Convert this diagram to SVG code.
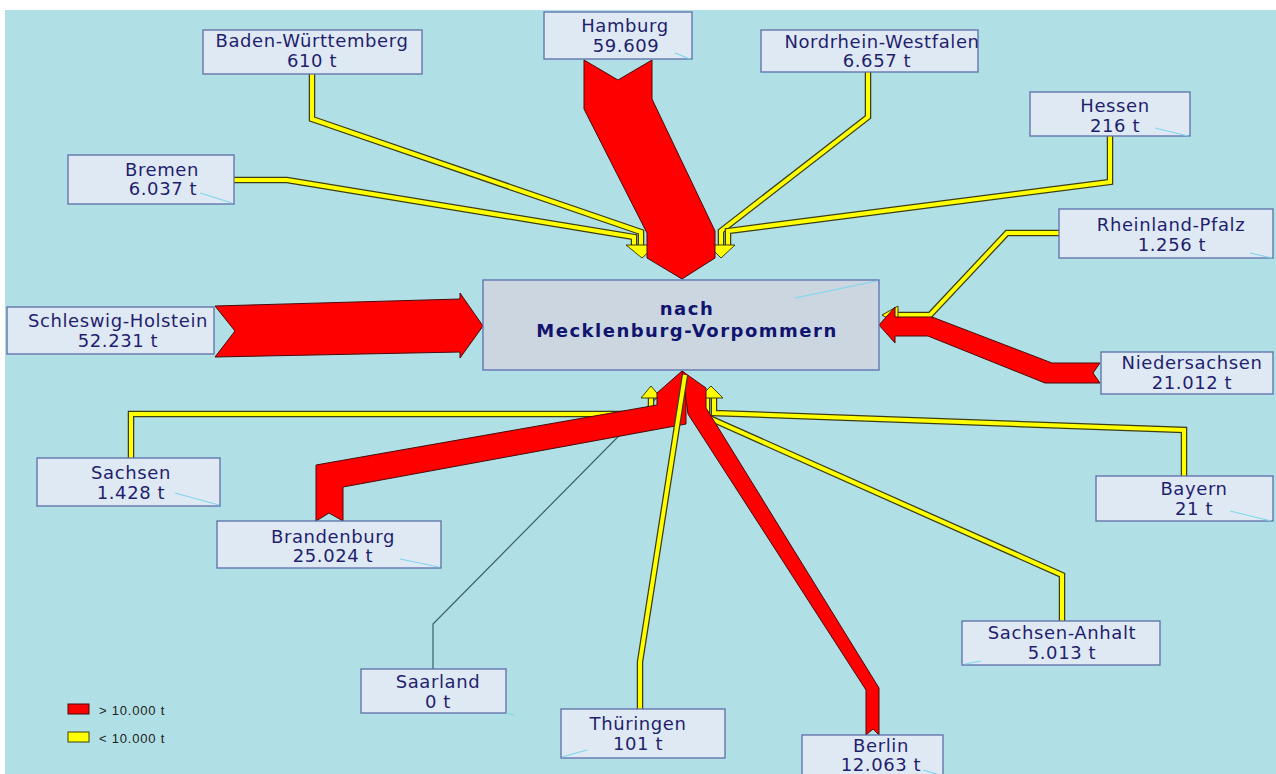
<svg xmlns="http://www.w3.org/2000/svg" xmlns:xlink="http://www.w3.org/1999/xlink" width="1276" height="774" viewBox="0 0 1276 774">
<style>
.bg{fill:#b0dfe5}
.box{fill:#dfe9f4;stroke:#5b6fa9;stroke-width:1.3}
.cbox{fill:#cbd6e0;stroke:#5b6fb0;stroke-width:1.3}
.lbl{font-family:"DejaVu Sans",Verdana,sans-serif;font-size:18px;fill:#1f1f6e;text-anchor:middle;letter-spacing:0.6px}
.ctr{font-family:"DejaVu Sans",Verdana,sans-serif;font-size:18px;font-weight:bold;fill:#10146e;text-anchor:middle;letter-spacing:1.5px}
.red{fill:#ff0000;stroke:#4a0a0a;stroke-width:1;stroke-linejoin:miter}
.yo{fill:none;stroke:#3d3d12;stroke-width:6.5;stroke-linejoin:miter}
.yi{fill:none;stroke:#ffff00;stroke-width:4;stroke-linejoin:miter}
.yh{fill:#ffff00;stroke:#3d3d12;stroke-width:1}
.gray{fill:none;stroke:#3c5f66;stroke-width:1.2}
.hint{stroke:#7fd6ea;stroke-width:1.2}
.leg{font-family:"Liberation Sans",Arial,sans-serif;font-size:13px;fill:#222;letter-spacing:0.8px}
</style>
<defs>
<path id="p-bw" d="M312,74 V119 L641,232 V247"/>
<path id="p-hb" d="M234,180 H287 L634,237 V247"/>
<path id="p-nrw" d="M868,72 V117 L721,231 V247"/>
<path id="p-he" d="M1110,136 V182 L728,231 V247"/>
<path id="p-rp" d="M1059,233 H1007 L930,315 H897"/>
<path id="p-sn" d="M131,458 V414 H651 V397"/>
<path id="p-by" d="M1184,476 V430 L714,413 V397"/>
<path id="p-sa" d="M1062,621 V575 L707,417 V397"/>
<path id="p-th" d="M640,709 V662 L685,375"/>
</defs>
<rect x="0" y="0" width="1276" height="774" fill="#ffffff"/>
<rect class="bg" x="5" y="10" width="1271" height="764"/>

<g id="connectors">
  <path class="gray" d="M433,669 V624 L682,372"/>
  <use xlink:href="#p-bw" class="yo"/><use xlink:href="#p-bw" class="yi"/>
  <use xlink:href="#p-hb" class="yo"/><use xlink:href="#p-hb" class="yi"/>
  <polygon class="yh" points="626,245 656,245 642,258"/>
  <use xlink:href="#p-nrw" class="yo"/><use xlink:href="#p-nrw" class="yi"/>
  <use xlink:href="#p-he" class="yo"/><use xlink:href="#p-he" class="yi"/>
  <polygon class="yh" points="708,245 735,245 721,258"/>
  <use xlink:href="#p-rp" class="yo"/><use xlink:href="#p-rp" class="yi"/>
  <polygon class="yh" points="898,306 898,324 882,315"/>
  <use xlink:href="#p-sn" class="yo"/><use xlink:href="#p-sn" class="yi"/>
  <polygon class="yh" points="641,398 661,398 651,386"/>
  <use xlink:href="#p-by" class="yo"/><use xlink:href="#p-by" class="yi"/>
  <use xlink:href="#p-sa" class="yo"/><use xlink:href="#p-sa" class="yi"/>
  <polygon class="yh" points="699,398 723,398 711,386"/>

  <polygon class="red" points="584,60 618,80 652,60 652,99 715,231 715,258 682,279 647,258 647,233 584,109"/>
  <polygon class="red" points="215,306 235,331 215,357 460,352 460,358 483,326 460,293 460,299"/>
  <polygon class="red" points="1100,363 1052,363 932,317 895,317 895,307 879,325 895,343 895,336 928,336 1045,383 1100,383 1093,373"/>
  <polygon class="red" points="316,521 329,513 343,521 343,487 686,424 686,374 682,371 657,393 657,405 316,465"/>
  <polygon class="red" points="866,735 873,729 879,735 879,688 706,408 706,388 682,371 688,414 866,690"/>

  <use xlink:href="#p-th" class="yo"/><use xlink:href="#p-th" class="yi"/>
</g>

<g id="node-center">
  <rect class="cbox" x="483" y="280" width="396" height="90"/>
  <line class="hint" x1="795" y1="298" x2="877" y2="281"/>
  <text class="ctr" x="687" y="315">nach</text>
  <text class="ctr" x="687" y="337">Mecklenburg-Vorpommern</text>
</g>
<g id="node-bw">
  <rect class="box" x="203" y="30" width="219" height="44"/>
  <text class="lbl" x="312" y="47">Baden-Württemberg</text>
  <text class="lbl" x="312" y="67">610 t</text>
</g>
<g id="node-bremen">
  <rect class="box" x="68" y="155" width="166" height="49"/>
  <line class="hint" x1="200" y1="193" x2="232" y2="203"/>
  <text class="lbl" x="162" y="176">Bremen</text>
  <text class="lbl" x="163" y="195">6.037 t</text>
</g>
<g id="node-hamburg">
  <rect class="box" x="544" y="12" width="148" height="47"/>
  <line class="hint" x1="675" y1="53" x2="690" y2="59"/>
  <text class="lbl" x="625" y="32">Hamburg</text>
  <text class="lbl" x="626" y="52">59.609</text>
</g>
<g id="node-nrw">
  <rect class="box" x="761" y="30" width="217" height="42"/>
  <text class="lbl" x="882" y="48">Nordrhein-Westfalen</text>
  <text class="lbl" x="877" y="67">6.657 t</text>
</g>
<g id="node-hessen">
  <rect class="box" x="1030" y="92" width="160" height="44"/>
  <line class="hint" x1="1155" y1="128" x2="1188" y2="136"/>
  <text class="lbl" x="1115" y="112">Hessen</text>
  <text class="lbl" x="1115" y="132">216 t</text>
</g>
<g id="node-rp">
  <rect class="box" x="1059" y="209" width="214" height="49"/>
  <line class="hint" x1="1250" y1="253" x2="1272" y2="258"/>
  <text class="lbl" x="1171" y="231">Rheinland-Pfalz</text>
  <text class="lbl" x="1172" y="251">1.256 t</text>
</g>
<g id="node-niedersachsen">
  <rect class="box" x="1101" y="352" width="172" height="42"/>
  <text class="lbl" x="1192" y="369">Niedersachsen</text>
  <text class="lbl" x="1192" y="389">21.012 t</text>
</g>
<g id="node-sh">
  <rect class="box" x="7" y="307" width="207" height="47"/>
  <text class="lbl" x="118" y="327">Schleswig-Holstein</text>
  <text class="lbl" x="118" y="347">52.231 t</text>
</g>
<g id="node-sachsen">
  <rect class="box" x="37" y="458" width="183" height="48"/>
  <line class="hint" x1="175" y1="493" x2="219" y2="505"/>
  <text class="lbl" x="131" y="479">Sachsen</text>
  <text class="lbl" x="131" y="499">1.428 t</text>
</g>
<g id="node-brandenburg">
  <rect class="box" x="217" y="521" width="224" height="47"/>
  <line class="hint" x1="400" y1="559" x2="439" y2="567"/>
  <text class="lbl" x="333" y="543">Brandenburg</text>
  <text class="lbl" x="333" y="562">25.024 t</text>
</g>
<g id="node-saarland">
  <rect class="box" x="361" y="669" width="145" height="44"/>
  <line class="hint" x1="506" y1="713" x2="514" y2="715"/>
  <text class="lbl" x="438" y="688">Saarland</text>
  <text class="lbl" x="438" y="708">0 t</text>
</g>
<g id="node-thueringen">
  <rect class="box" x="561" y="709" width="164" height="49"/>
  <line class="hint" x1="562" y1="757" x2="587" y2="750"/>
  <text class="lbl" x="638" y="730">Thüringen</text>
  <text class="lbl" x="638" y="750">101 t</text>
</g>
<g id="node-berlin">
  <rect class="box" x="802" y="735" width="141" height="45"/>
  <line class="hint" x1="923" y1="770" x2="940" y2="775"/>
  <text class="lbl" x="881" y="752">Berlin</text>
  <text class="lbl" x="881" y="771">12.063 t</text>
</g>
<g id="node-sa">
  <rect class="box" x="962" y="621" width="198" height="44"/>
  <line class="hint" x1="965" y1="664" x2="981" y2="661"/>
  <text class="lbl" x="1062" y="639">Sachsen-Anhalt</text>
  <text class="lbl" x="1062" y="659">5.013 t</text>
</g>
<g id="node-bayern">
  <rect class="box" x="1096" y="476" width="177" height="45"/>
  <line class="hint" x1="1230" y1="511" x2="1271" y2="521"/>
  <text class="lbl" x="1194" y="495">Bayern</text>
  <text class="lbl" x="1194" y="515">21 t</text>
</g>

<g id="legend">
  <rect x="68" y="704" width="21" height="10" fill="#ff0000" stroke="#4a0a0a" stroke-width="1"/>
  <text class="leg" x="99" y="715">&gt; 10.000 t</text>
  <rect x="68" y="732" width="21" height="10" fill="#ffff00" stroke="#3d3d12" stroke-width="1"/>
  <text class="leg" x="99" y="743">&lt; 10.000 t</text>
</g>
</svg>
